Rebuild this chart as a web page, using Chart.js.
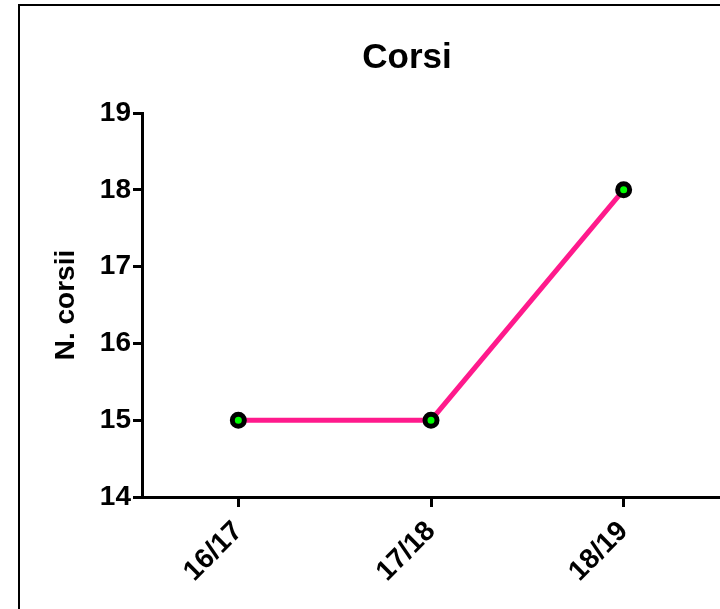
<!DOCTYPE html>
<html>
<head>
<meta charset="utf-8">
<script src="https://cdn.jsdelivr.net/npm/chart.js@4/dist/chart.umd.min.js"></script>
<style>
  html, body { margin: 0; padding: 0; background: #fff; }
  canvas { display: block; }
</style>
</head>
<body>
<canvas id="corsi-chart" width="720" height="609"></canvas>
<script>
// dati del grafico
const years = ["16/17", "17/18", "18/19"];
const numCorsi = [15, 15, 18];
const yTicks = [14, 15, 16, 17, 18, 19];

const chartTitle = "Corsi";
const yTitle = "N. corsii";
const FONT = "'Liberation Sans', Arial, sans-serif";

// cornice e titolo disegnati a mano
const framePlugin = {
  id: "frame",
  beforeDraw(chart) {
    const ctx = chart.ctx;
    ctx.save();
    ctx.fillStyle = "#fff";
    ctx.fillRect(0, 0, chart.width, chart.height);
    ctx.strokeStyle = "#000";
    ctx.lineWidth = 2;
    ctx.beginPath();
    ctx.moveTo(19, chart.height);
    ctx.lineTo(19, 5);
    ctx.lineTo(chart.width, 5);
    ctx.stroke();
    ctx.restore();
  },
  afterDraw(chart) {
    const ctx = chart.ctx;
    ctx.save();
    ctx.font = "bold 35px " + FONT;
    ctx.fillStyle = "#000";
    ctx.textAlign = "center";
    ctx.textBaseline = "alphabetic";
    ctx.fillText(chartTitle, 407, 68);
    ctx.restore();
  },
};

new Chart(document.getElementById("corsi-chart"), {
  type: "line",
  data: {
    labels: years,
    datasets: [
      {
        label: "N. corsi",
        data: numCorsi,
        borderColor: "#ff1a8c",
        borderWidth: 5,
        pointRadius: 6,
        pointHoverRadius: 6,
        pointBackgroundColor: "#00ff00",
        pointBorderColor: "#000",
        pointBorderWidth: 5,
        tension: 0,
      },
    ],
  },
  options: {
    responsive: false,
    animation: false,
    layout: { autoPadding: false, padding: { top: 113, left: 0, right: 0, bottom: 0 } },
    plugins: {
      legend: { display: false },
      title: { display: false },
      tooltip: { enabled: false },
    },
    scales: {
      x: {
        type: "category",
        offset: true,
        afterFit: (scale) => {
          scale.height = 112;
          scale.paddingLeft = 0;
          scale.paddingRight = 0;
        },
        border: { display: true, color: "#000", width: 3 },
        grid: {
          display: true,
          drawOnChartArea: false,
          drawTicks: true,
          tickLength: 10,
          tickWidth: 3,
          tickColor: "#000",
        },
        ticks: {
          color: "#000",
          font: { family: FONT, size: 28, weight: "bold" },
          minRotation: 45,
          maxRotation: 45,
          padding: 8,
        },
      },
      y: {
        min: 14,
        max: 19,
        afterFit: (scale) => {
          scale.width = 142;
        },
        afterBuildTicks: (scale) => {
          scale.ticks = yTicks.map((v) => ({ value: v }));
        },
        border: { display: true, color: "#000", width: 3 },
        grid: {
          display: true,
          drawOnChartArea: false,
          drawTicks: true,
          tickLength: 9,
          tickWidth: 3,
          tickColor: "#000",
        },
        ticks: {
          color: "#000",
          font: { family: FONT, size: 28, weight: "bold" },
          padding: 2,
        },
        title: {
          display: true,
          text: yTitle,
          color: "#000",
          font: { family: FONT, size: 28, weight: "bold" },
          padding: { top: 49, bottom: 0 },
        },
      },
    },
  },
  plugins: [framePlugin],
});
</script>
</body>
</html>
